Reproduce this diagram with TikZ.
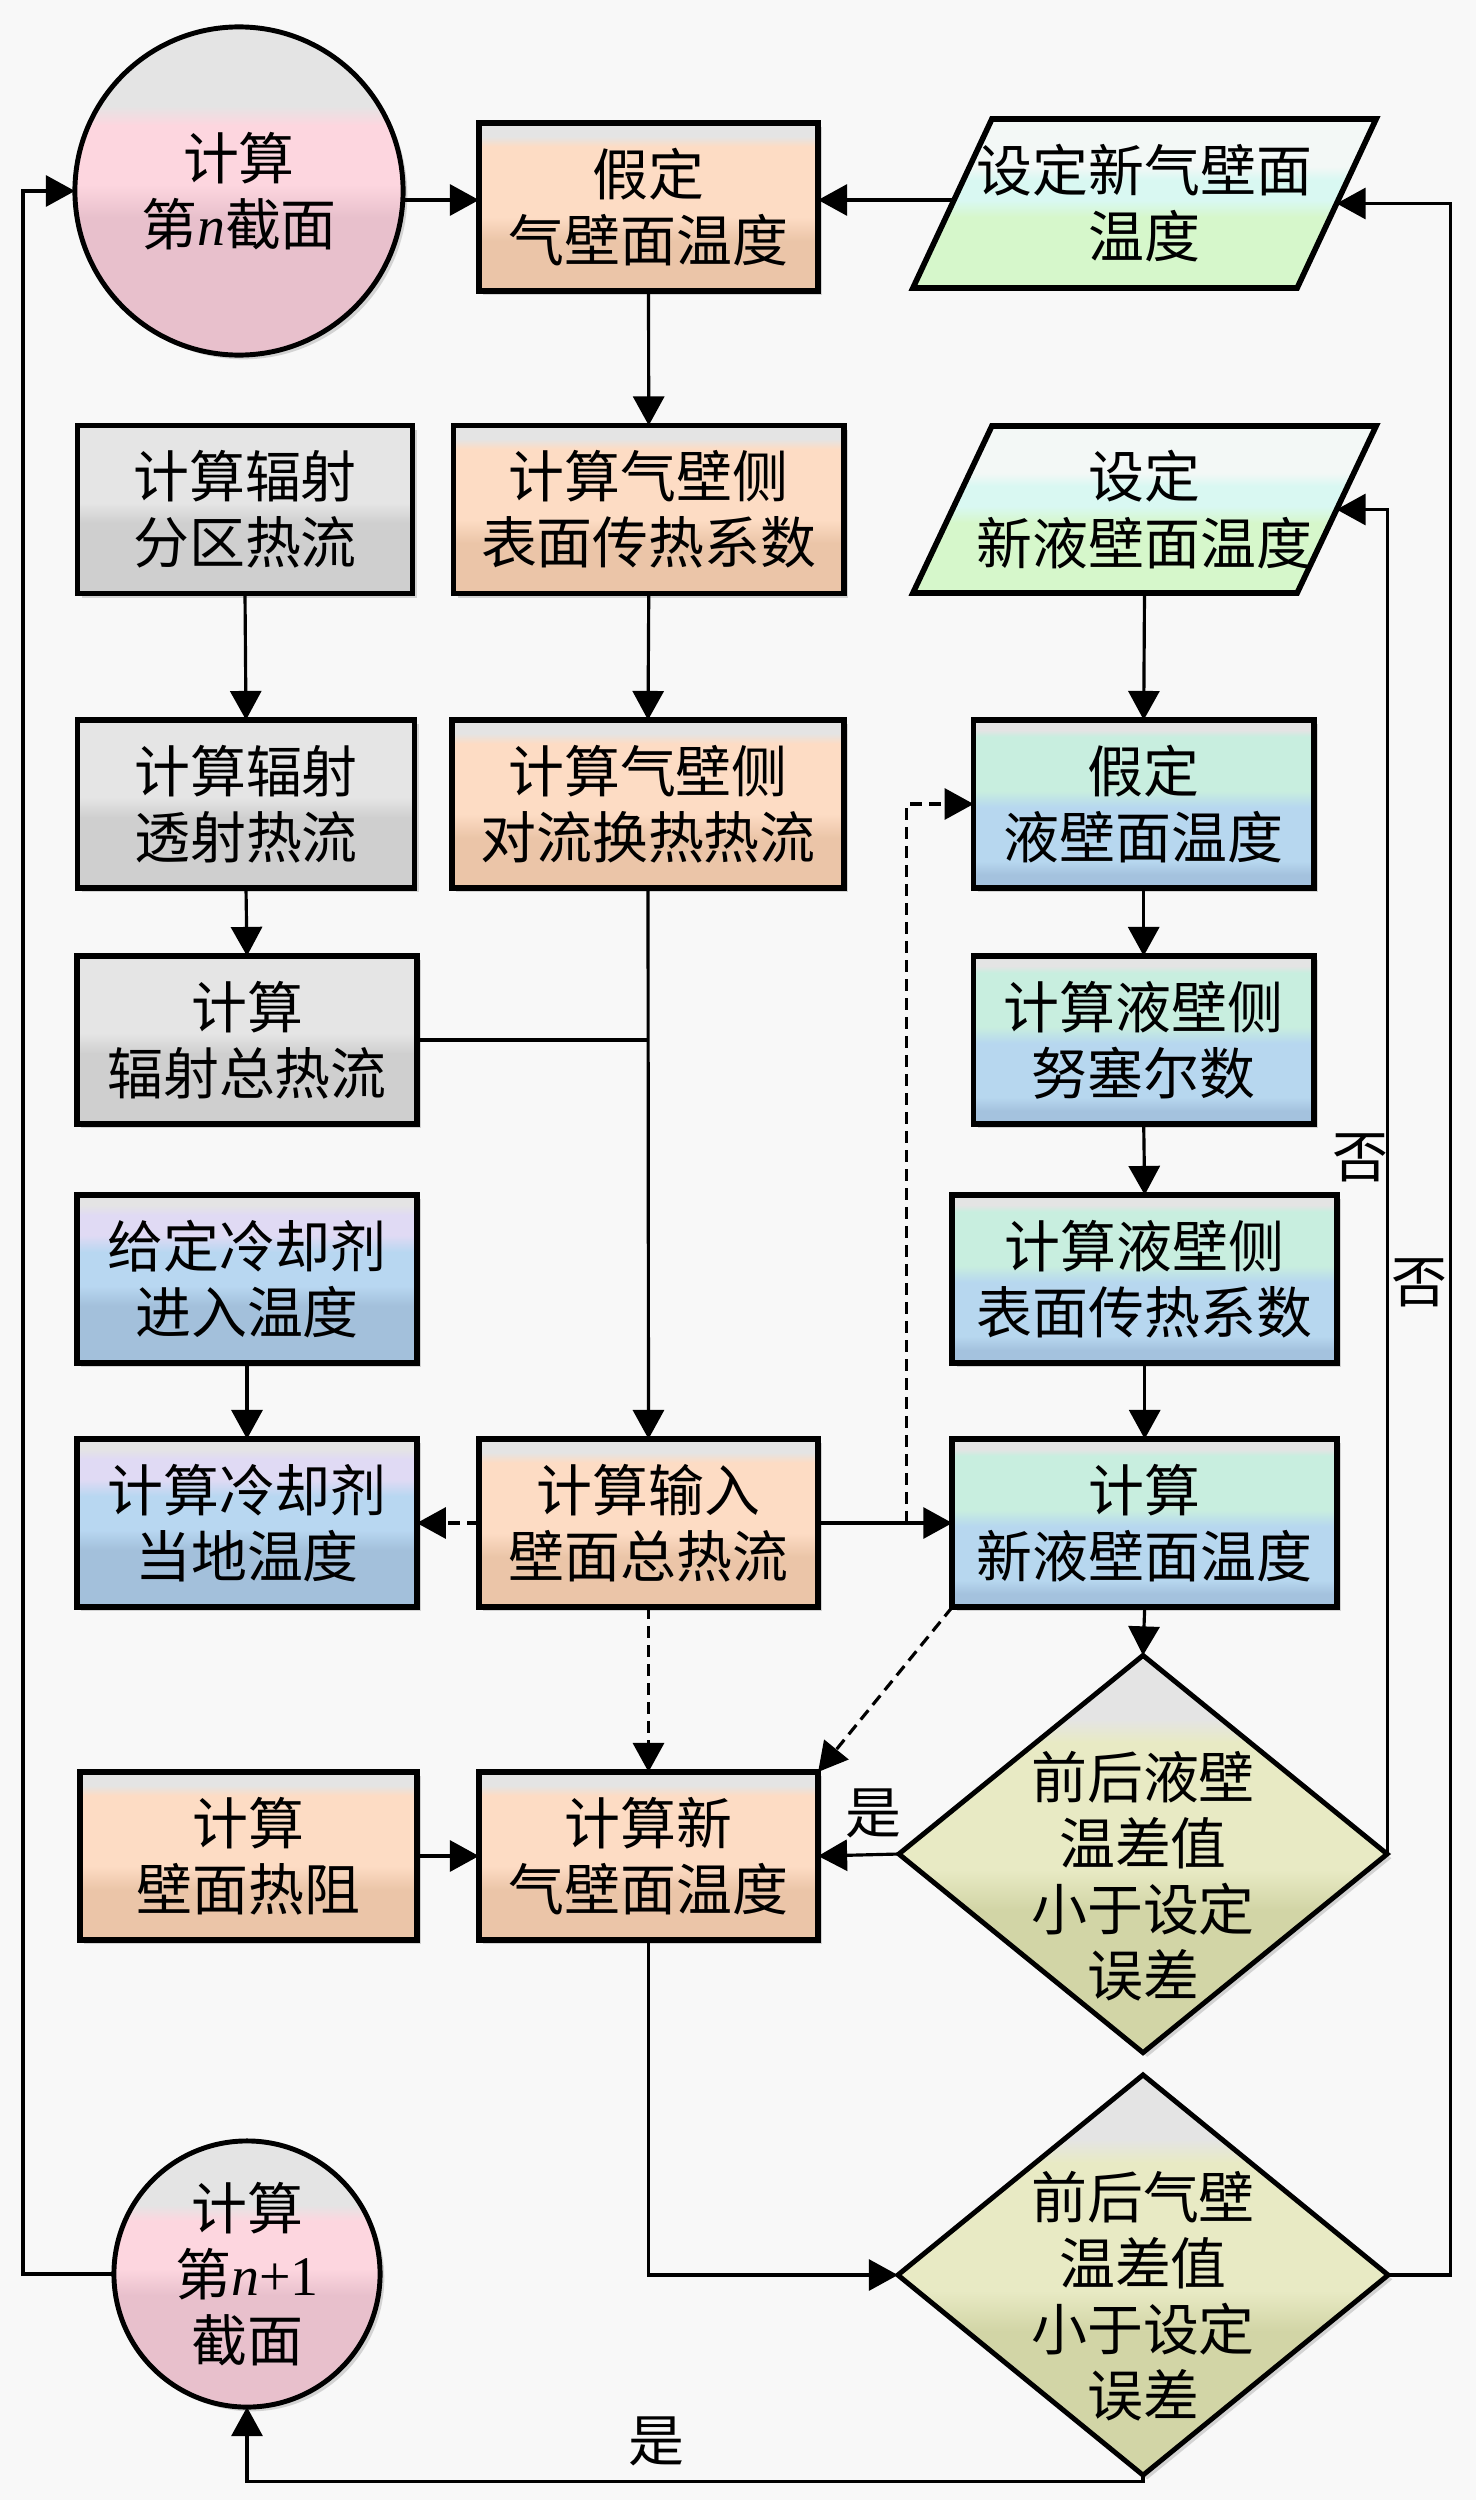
\documentclass[tikz,border=0pt]{standalone}
\usepackage{fontspec}
\setmainfont{Noto Sans CJK SC}
\newfontfamily\tnr{Liberation Serif}
\usetikzlibrary{shapes.geometric,arrows.meta,calc,shadows}
\newcommand\myfz{\fontsize{15.9pt}{18.8pt}\selectfont}
\definecolor{bgc}{HTML}{F8F8F8}
\definecolor{topG}{HTML}{E4E4E4}
\definecolor{orA}{HTML}{FDDCC4}
\definecolor{orB}{HTML}{EBC5A8}
\definecolor{grA}{HTML}{E5E5E5}
\definecolor{grB}{HTML}{CFCFCF}
\definecolor{blT}{HTML}{E0DAF4}
\definecolor{blA}{HTML}{B8D7F1}
\definecolor{blB}{HTML}{A3C0DB}
\definecolor{tlT}{HTML}{C8EEDF}
\definecolor{tlA}{HTML}{B7D7EF}
\definecolor{tlB}{HTML}{A4C2DE}
\definecolor{gnW}{HTML}{F3F8F6}
\definecolor{gnT}{HTML}{D9F8F2}
\definecolor{gnB}{HTML}{D6F7CB}
\definecolor{dmA}{HTML}{E8EAC4}
\definecolor{dmB}{HTML}{D2D5A6}
\definecolor{pkA}{HTML}{FDD6DF}
\definecolor{pkB}{HTML}{E8C0CC}
\pgfdeclareverticalshading{shOr}{100bp}{color(0bp)=(orB); color(25bp)=(orB); color(40bp)=(orB); color(47bp)=(orA); color(68bp)=(orA); color(71bp)=(topG); color(100bp)=(topG)}
\pgfdeclareverticalshading{shGy}{100bp}{color(0bp)=(grB); color(25bp)=(grB); color(46bp)=(grB); color(52bp)=(grA); color(100bp)=(grA)}
\pgfdeclareverticalshading{shBl}{100bp}{color(0bp)=(blB); color(25bp)=(blB); color(42bp)=(blB); color(48bp)=(blA); color(58bp)=(blA); color(63bp)=(blT); color(69bp)=(blT); color(72bp)=(topG); color(100bp)=(topG)}
\pgfdeclareverticalshading{shTl}{100bp}{color(0bp)=(tlB); color(25bp)=(tlB); color(29bp)=(tlB); color(33bp)=(tlA); color(49bp)=(tlA); color(54bp)=(tlT); color(70bp)=(tlT); color(72bp)=(topG); color(100bp)=(topG)}
\pgfdeclareverticalshading{shGn}{100bp}{color(0bp)=(gnB); color(25bp)=(gnB); color(46bp)=(gnB); color(51bp)=(gnT); color(57bp)=(gnT); color(61bp)=(gnW); color(100bp)=(gnW)}
\pgfdeclareverticalshading{shDm}{100bp}{color(0bp)=(dmB); color(25bp)=(dmB); color(43bp)=(dmB); color(48bp)=(dmA); color(64bp)=(dmA); color(67bp)=(topG); color(100bp)=(topG)}
\pgfdeclareverticalshading{shPk}{100bp}{color(0bp)=(pkB); color(25bp)=(pkB); color(46bp)=(pkB); color(51bp)=(pkA); color(60bp)=(pkA); color(63bp)=(topG); color(100bp)=(topG)}
\pgfdeclarelayer{back}
\pgfdeclarelayer{mid}
\pgfsetlayers{back,mid,main}
\tikzset{
  shd/.style={drop shadow={shadow xshift=1.2pt, shadow yshift=-1.2pt, opacity=0.3}},
  box/.style={rectangle, draw=black, line width=1.6pt, minimum height=1.68cm, inner sep=0pt, outer sep=0pt, align=center, font=\myfz, shd},
  orbox/.style={box, shading=shOr},
  gybox/.style={box, shading=shGy},
  blbox/.style={box, shading=shBl},
  tlbox/.style={box, shading=shTl},
  txt/.style={rectangle, inner sep=0pt, outer sep=0pt, align=center, font=\myfz},
  dia/.style={diamond, draw=black, line width=1.4pt, inner sep=0pt, outer sep=0pt, shading=shDm, shd},
  pkcirc/.style={circle, draw=black, line width=1.4pt, inner sep=0pt, outer sep=0pt, align=center, font=\myfz, shading=shPk, shd},
  para/.style={draw=black, line width=1.6pt, shading=shGn},
  lbl/.style={inner sep=0pt, font=\myfz},
  ln/.style={line width=0.9pt},
  arr/.style={line width=0.9pt, -{Triangle[length=0.29cm,width=0.31cm]}},
  dsh/.style={dash pattern=on 0.12cm off 0.07cm}
}
\begin{document}
\begin{tikzpicture}[x=0.01cm, y=-0.01cm]
\begin{pgfonlayer}{back}
\fill[bgc] (0,0) rectangle (1476,2500);
\end{pgfonlayer}
\useasboundingbox (0,0) rectangle (1476,2500);

% nodes
\node[pkcirc, minimum size=3.28cm] (c1) at (239,191) {计算\\第{\tnr\itshape n}截面};
\node[orbox, minimum width=3.39cm] (b1) at (648.5,207) {假定\\气壁面温度};
\node[txt, minimum width=3.84cm, minimum height=1.69cm] (p1) at (1144.5,203.5) {设定新气壁面\\温度};
\node[txt, minimum width=3.84cm, minimum height=1.67cm] (p2) at (1144.5,509.5) {设定\\新液壁面温度};
\node[gybox, minimum width=3.35cm] (g1) at (245,509.5) {计算辐射\\分区热流};
\node[orbox, minimum width=3.905cm] (o2) at (648.75,509.5) {计算气壁侧\\表面传热系数};
\node[gybox, minimum width=3.37cm] (g2) at (246,804) {计算辐射\\透射热流};
\node[orbox, minimum width=3.92cm] (o3) at (648,804) {计算气壁侧\\对流换热热流};
\node[gybox, minimum width=3.395cm] (g3) at (247,1040) {计算\\辐射总热流};
\node[blbox, minimum width=3.395cm] (k1) at (247,1279) {给定冷却剂\\进入温度};
\node[blbox, minimum width=3.395cm] (k2) at (247,1523) {计算冷却剂\\当地温度};
\node[orbox, minimum width=3.39cm] (o4) at (648.5,1523) {计算输入\\壁面总热流};
\node[orbox, minimum width=3.37cm] (o5) at (248.5,1856) {计算\\壁面热阻};
\node[orbox, minimum width=3.39cm] (o6) at (648.5,1856) {计算新\\气壁面温度};
\node[tlbox, minimum width=3.40cm] (t1) at (1143.7,804) {假定\\液壁面温度};
\node[tlbox, minimum width=3.40cm] (t2) at (1143.7,1040) {计算液壁侧\\努塞尔数};
\node[tlbox, minimum width=3.846cm] (t3) at (1144.7,1279) {计算液壁侧\\表面传热系数};
\node[tlbox, minimum width=3.846cm] (t4) at (1144.7,1523) {计算\\新液壁面温度};
\node[dia, minimum width=4.88cm, minimum height=3.97cm] (d1) at (1143,1854) {};
\node[txt] (d1t) at ($(d1)+(0,22)$) {前后液壁\\温差值\\小于设定\\误差};
\node[dia, minimum width=4.9cm, minimum height=4.0cm] (d2) at (1143,2275) {};
\node[txt] (d2t) at ($(d2)+(0,21)$) {前后气壁\\温差值\\小于设定\\误差};
\node[pkcirc, minimum size=2.66cm] (c2) at (247,2274) {计算\\第{\tnr\itshape n}{\tnr +1}\\截面};

% parallelograms
\begin{pgfonlayer}{mid}
\foreach \p in {p1,p2}{
  \path[para] ($(\p.north west)+(39.5,0)$) -- ($(\p.north east)+(39.5,0)$) -- ($(\p.south east)+(-39.5,0)$) -- ($(\p.south west)+(-39.5,0)$) -- cycle;
}
\end{pgfonlayer}

% connectors
\coordinate (ya) at (0,200);
\draw[arr] (c1.east |- ya) -- (b1.west |- ya);
\draw[arr] (p1.west |- ya) -- (b1.east |- ya);
\draw[arr] (b1.south) -- (o2.north);
\draw[arr] (o2.south) -- (o3.north);
\draw[arr] (g1.south) -- (g2.north);
\draw[arr] (g2.south) -- (g3.north);
\draw[arr] (o3.south) -- (o4.north);
\draw[ln] (g3.east) -- (g3.east -| o3.south);
\draw[arr] (k1.south) -- (k2.north);
\draw[arr, dsh] (o4.west) -- (k2.east);
\draw[arr, dsh] (o4.south) -- (o6.north);
\draw[arr] (o5.east) -- (o6.west);
\draw[arr] (o4.east) -- (t4.west);
\draw[arr, dsh] ($(o4.east)!0.66!(t4.west)$) |- (t1.west);
\draw[arr] (p2.south) -- (t1.north);
\draw[arr] (t1.south) -- (t2.north);
\draw[arr] (t2.south) -- (t3.north);
\draw[arr] (t3.south) -- (t4.north);
\draw[arr] (t4.south) -- (d1.north);
\draw[arr, dsh] (t4.south west) -- (o6.north east);
\draw[arr] (d1.west) -- (o6.east);
\draw[arr] (d1.east) |- (p2.east);
\draw[arr] (o6.south) |- (d2.west);
\draw[arr] (d2.east) -- ++(62,0) |- (p1.east);
\draw[arr] (d2.south) -- ++(0,6) -| (c2.south);
\draw[arr] (c2.west) -- ++(-91,0) |- (c1.west);

% labels
\node[lbl] (l1) at (873,1813) {是};
\node[lbl] (l2) at (656,2441) {是};
\node[lbl] (l3) at (1360,1158) {否};
\node[lbl] (l4) at (1419,1283) {否};
\end{tikzpicture}
\end{document}
